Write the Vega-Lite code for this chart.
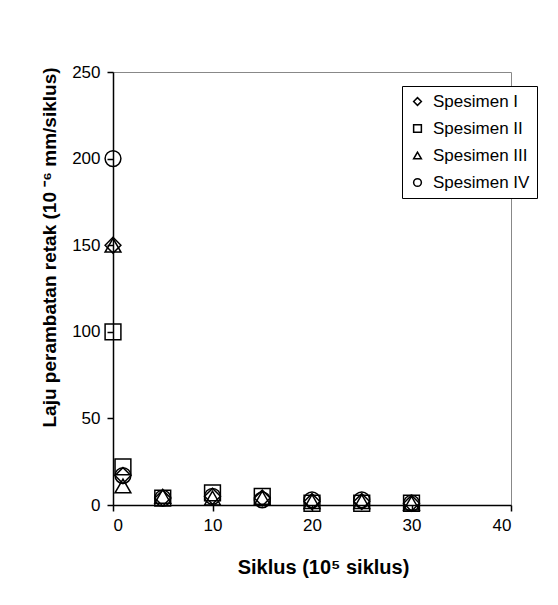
{
  "$schema": "https://vega.github.io/schema/vega-lite/v6.json",
  "width": 398,
  "height": 433,
  "autosize": {"type": "none"},
  "padding": {"left": 113, "top": 72, "right": 47, "bottom": 100},
  "background": "white",
  "config": {
    "font": "Liberation Sans",
    "view": {"stroke": "#888888", "strokeWidth": 1},
    "axis": {"domainColor": "black", "tickColor": "black", "labelColor": "black", "titleColor": "black", "grid": false, "labelFontSize": 17, "titleFontSize": 20, "titleFontWeight": "bold", "tickSize": 6, "domainWidth": 1.5, "tickWidth": 1.5}
  },
  "data": {"values": [
    {"siklus": 0, "laju": 150, "spesimen": "Spesimen I"},
    {"siklus": 1, "laju": 17, "spesimen": "Spesimen I"},
    {"siklus": 5, "laju": 4, "spesimen": "Spesimen I"},
    {"siklus": 10, "laju": 5, "spesimen": "Spesimen I"},
    {"siklus": 15, "laju": 4, "spesimen": "Spesimen I"},
    {"siklus": 20, "laju": 2, "spesimen": "Spesimen I"},
    {"siklus": 25, "laju": 2, "spesimen": "Spesimen I"},
    {"siklus": 30, "laju": 1, "spesimen": "Spesimen I"},
    {"siklus": 0, "laju": 100, "spesimen": "Spesimen II"},
    {"siklus": 1, "laju": 22, "spesimen": "Spesimen II"},
    {"siklus": 5, "laju": 4, "spesimen": "Spesimen II"},
    {"siklus": 10, "laju": 7, "spesimen": "Spesimen II"},
    {"siklus": 15, "laju": 5, "spesimen": "Spesimen II"},
    {"siklus": 20, "laju": 1, "spesimen": "Spesimen II"},
    {"siklus": 25, "laju": 1, "spesimen": "Spesimen II"},
    {"siklus": 30, "laju": 1, "spesimen": "Spesimen II"},
    {"siklus": 0, "laju": 150, "spesimen": "Spesimen III"},
    {"siklus": 1, "laju": 11, "spesimen": "Spesimen III"},
    {"siklus": 5, "laju": 5, "spesimen": "Spesimen III"},
    {"siklus": 10, "laju": 4, "spesimen": "Spesimen III"},
    {"siklus": 15, "laju": 4, "spesimen": "Spesimen III"},
    {"siklus": 20, "laju": 2, "spesimen": "Spesimen III"},
    {"siklus": 25, "laju": 2, "spesimen": "Spesimen III"},
    {"siklus": 30, "laju": 1, "spesimen": "Spesimen III"},
    {"siklus": 0, "laju": 200, "spesimen": "Spesimen IV"},
    {"siklus": 1, "laju": 17, "spesimen": "Spesimen IV"},
    {"siklus": 5, "laju": 4, "spesimen": "Spesimen IV"},
    {"siklus": 10, "laju": 5, "spesimen": "Spesimen IV"},
    {"siklus": 15, "laju": 3, "spesimen": "Spesimen IV"},
    {"siklus": 20, "laju": 3, "spesimen": "Spesimen IV"},
    {"siklus": 25, "laju": 3, "spesimen": "Spesimen IV"},
    {"siklus": 30, "laju": 1, "spesimen": "Spesimen IV"}
  ]},
  "mark": {"type": "point", "filled": false, "color": "black", "strokeWidth": 1.5, "size": 250, "opacity": 1, "clip": false},
  "encoding": {
    "x": {"field": "siklus", "type": "quantitative", "scale": {"domain": [0, 40], "nice": false, "zero": true}, "axis": {"values": [0, 10, 20, 30, 40], "title": "Siklus (10⁵ siklus)", "titlePadding": 24, "labelPadding": 6, "titleX": 210}},
    "y": {"field": "laju", "type": "quantitative", "scale": {"domain": [0, 250], "nice": false}, "axis": {"values": [0, 50, 100, 150, 200, 250], "title": "Laju perambatan retak (10 ⁻⁶ mm/siklus)", "titleFontSize": 19, "titlePadding": 12, "labelPadding": 7, "titleY": 175}},
    "shape": {"field": "spesimen", "type": "nominal", "scale": {"domain": ["Spesimen I", "Spesimen II", "Spesimen III", "Spesimen IV"], "range": ["diamond", "square", "triangle-up", "circle"]},
      "legend": {"title": null, "orient": "none", "legendX": 289, "legendY": 14, "strokeColor": "black", "fillColor": "white", "padding": 7, "symbolSize": 60, "symbolStrokeColor": "black", "symbolStrokeWidth": 1.5, "symbolFillColor": "white", "labelFontSize": 17, "labelColor": "black", "rowPadding": 9, "labelOffset": 7}}
  }
}
